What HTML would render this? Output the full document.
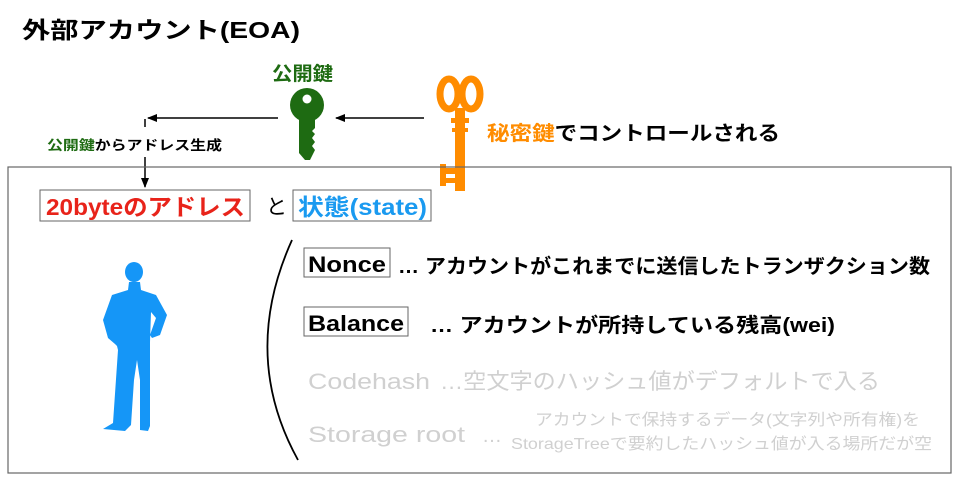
<!DOCTYPE html>
<html><head><meta charset="utf-8"><style>
body{margin:0;background:#fff;}
svg{display:block;font-family:"Liberation Sans","Noto Sans CJK JP",sans-serif;}
</style></head><body>
<svg width="960" height="481" viewBox="0 0 960 481" xmlns="http://www.w3.org/2000/svg">
<defs><marker id="ah" markerWidth="10" markerHeight="10" refX="9" refY="5" orient="auto" markerUnits="userSpaceOnUse"><path d="M0,1 L10,5 L0,9 z" fill="#000"/></marker></defs>
<text x="22" y="38" font-size="23" font-weight="bold" fill="#000" textLength="278" lengthAdjust="spacingAndGlyphs">外部アカウント(EOA)</text>
<text x="272" y="80" font-size="19" font-weight="bold" fill="#1e6b12" textLength="61" lengthAdjust="spacingAndGlyphs">公開鍵</text>
<!-- green key -->
<circle cx="307" cy="105" r="17" fill="#1e6b12"/>
<circle cx="307" cy="99" r="4.5" fill="#fff"/>
<path d="M299,115 L315,115 L315,128 L312,131 L315,134 L312,138 L315,142 L312,146 L315,150 L310,160 L305,160 L299,153 Z" fill="#1e6b12"/>
<!-- orange key -->
<path d="M450,84 C442,74 439,95 446,104 C452,112 458,102 460,96 C462,102 468,112 474,104 C481,95 478,74 470,84" fill="none" stroke="#ff8c00" stroke-width="0"/>
<ellipse cx="449" cy="94" rx="9" ry="15" fill="none" stroke="#ff8c00" stroke-width="7"/>
<ellipse cx="471" cy="94" rx="9" ry="15" fill="none" stroke="#ff8c00" stroke-width="7"/>
<rect x="455" y="108" width="10" height="10" fill="#ff8c00"/>
<rect x="451" y="118" width="18" height="5" fill="#ff8c00"/>
<rect x="455" y="123" width="10" height="68" fill="#ff8c00"/>
<rect x="452" y="128" width="16" height="4" fill="#ff8c00"/>
<rect x="441" y="168" width="16" height="6" fill="#ff8c00"/>
<rect x="443" y="178" width="14" height="5" fill="#ff8c00"/>
<rect x="440" y="164" width="6" height="22" fill="#ff8c00"/>
<line x1="278" y1="118" x2="148" y2="118" stroke="#000" stroke-width="1.5" marker-end="url(#ah)"/>
<line x1="424" y1="118" x2="336" y2="118" stroke="#000" stroke-width="1.5" marker-end="url(#ah)"/>
<line x1="145" y1="119" x2="145" y2="127" stroke="#000" stroke-width="1.5"/>
<line x1="145" y1="157" x2="145" y2="187" stroke="#000" stroke-width="1.5" marker-end="url(#ah)"/>
<text x="47" y="150" font-size="13.5" font-weight="bold" textLength="175" lengthAdjust="spacingAndGlyphs"><tspan fill="#1e6b12">公開鍵</tspan><tspan fill="#000">からアドレス生成</tspan></text>
<text x="487" y="140" font-size="20" font-weight="bold" textLength="293" lengthAdjust="spacingAndGlyphs"><tspan fill="#ff8c00">秘密鍵</tspan><tspan fill="#000">でコントロールされる</tspan></text>
<rect x="8" y="167" width="943" height="306" fill="none" stroke="#666" stroke-width="1.2"/>
<rect x="40" y="190" width="210" height="31" fill="#fff" stroke="#666"/>
<text x="46" y="215" font-size="23" font-weight="bold" fill="#e8231a" textLength="199" lengthAdjust="spacingAndGlyphs">20byteのアドレス</text>
<text x="266" y="214" font-size="21" fill="#000">と</text>
<rect x="293" y="190" width="138" height="31" fill="#fff" stroke="#666"/>
<text x="298" y="215" font-size="23" font-weight="bold" fill="#1a9af0" textLength="129" lengthAdjust="spacingAndGlyphs">状態(state)</text>
<!-- person -->
<g fill="#1596f7">
<ellipse cx="134" cy="272" rx="9" ry="10"/>
<path d="M129,282 L140,282 L141,290 L156,295 L167,315 L160,335 L152,338 L150,335 L156,318 L151,312 L150,342 L150,426 L148,431 L140,430 L140,380 L137,360 L134,380 L131,425 L125,431 L103,429 L113,423 L118,350 L117,346 L115,344 L108,338 L103,320 L112,295 L128,290 Z"/>
</g>
<path d="M292,240 Q240,355 298,460" fill="none" stroke="#000" stroke-width="1.8"/>
<rect x="304" y="248" width="86" height="29" fill="#fff" stroke="#666"/>
<text x="308" y="272" font-size="22" font-weight="bold" fill="#000" textLength="78" lengthAdjust="spacingAndGlyphs">Nonce</text>
<text x="398" y="273" font-size="20" font-weight="bold" fill="#000" textLength="532" lengthAdjust="spacingAndGlyphs">… アカウントがこれまでに送信したトランザクション数</text>
<rect x="304" y="307" width="104" height="29" fill="#fff" stroke="#666"/>
<text x="308" y="331" font-size="22" font-weight="bold" fill="#000" textLength="96" lengthAdjust="spacingAndGlyphs">Balance</text>
<text x="430" y="332" font-size="20" font-weight="bold" fill="#000" textLength="405" lengthAdjust="spacingAndGlyphs">… アカウントが所持している残高(wei)</text>
<text x="308" y="389" font-size="22" fill="#d0d0d0" textLength="122" lengthAdjust="spacingAndGlyphs">Codehash</text>
<text x="440" y="389" font-size="22" fill="#d0d0d0" textLength="440" lengthAdjust="spacingAndGlyphs">…空文字のハッシュ値がデフォルトで入る</text>
<text x="308" y="442" font-size="22" fill="#d0d0d0" textLength="157" lengthAdjust="spacingAndGlyphs">Storage root</text>
<text x="482" y="442" font-size="20" fill="#d0d0d0">…</text>
<text x="535" y="425" font-size="16" fill="#d0d0d0" textLength="385" lengthAdjust="spacingAndGlyphs">アカウントで保持するデータ(文字列や所有権)を</text>
<text x="511" y="449" font-size="16" fill="#d0d0d0" textLength="421" lengthAdjust="spacingAndGlyphs">StorageTreeで要約したハッシュ値が入る場所だが空</text>
</svg>
</body></html>
